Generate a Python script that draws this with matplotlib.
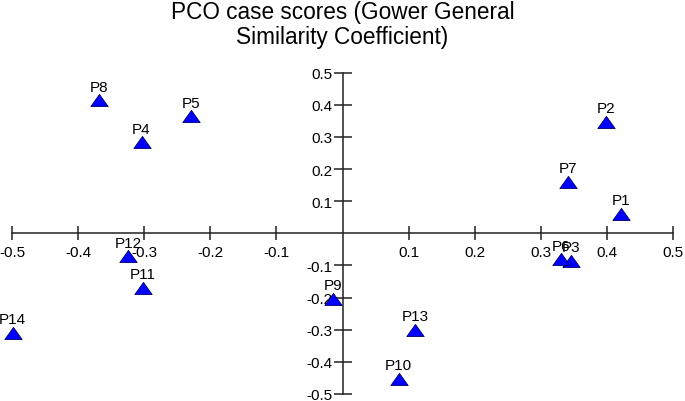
import matplotlib
matplotlib.use("Agg")
import matplotlib.pyplot as plt
from matplotlib.ticker import FixedLocator

plt.rcParams['font.family'] = ['Liberation Sans', 'DejaVu Sans']

labels = ['P1', 'P2', 'P3', 'P4', 'P5', 'P6', 'P7', 'P8', 'P9', 'P10', 'P11', 'P12', 'P13', 'P14']
x_scores = [0.422, 0.399, 0.346, -0.304, -0.229, 0.330, 0.341, -0.368, -0.015, 0.085, -0.302, -0.324, 0.110, -0.499]
y_scores = [0.061, 0.347, -0.086, 0.283, 0.364, -0.081, 0.160, 0.414, -0.203, -0.453, -0.170, -0.072, -0.300, -0.309]
x_ticks = [-0.5, -0.4, -0.3, -0.2, -0.1, 0.1, 0.2, 0.3, 0.4, 0.5]
y_ticks = [-0.5, -0.4, -0.3, -0.2, -0.1, 0.1, 0.2, 0.3, 0.4, 0.5]
title = "PCO case scores (Gower General\nSimilarity Coefficient)"

fig = plt.figure(figsize=(6.85, 4.02), dpi=100)
ax = fig.add_axes([12/685, 1 - 395/402, 661/685, (395 - 73.7)/402])
ax.set_xlim(-0.5, 0.5)
ax.set_ylim(-0.5, 0.5)

for s in ['top', 'right']:
    ax.spines[s].set_visible(False)
ax.spines['left'].set_position(('data', 0))
ax.spines['bottom'].set_position(('data', 0))
for s in ['left', 'bottom']:
    ax.spines[s].set_linewidth(1.1)
    ax.spines[s].set_color('#222222')

ax.xaxis.set_major_locator(FixedLocator(x_ticks))
ax.yaxis.set_major_locator(FixedLocator(y_ticks))
ax.set_xticklabels([f"{v:.1f}" for v in x_ticks])
ax.set_yticklabels([f"{v:.1f}" for v in y_ticks])
ax.tick_params(axis='x', direction='inout', length=9.4, width=1.1, color='#222222',
               labelsize=11, pad=4)
ax.tick_params(axis='y', direction='inout', length=13, width=1.1, color='#222222',
               labelsize=11, pad=0.5)
ax.patch.set_visible(False)

tri = [(-1, -0.7), (1, -0.7), (0, 0.7), (-1, -0.7)]
ax.plot(x_scores, y_scores, linestyle='none', marker=tri, markersize=12.5,
        markerfacecolor='#0000ff', markeredgecolor='#000066', markeredgewidth=0.6,
        clip_on=False, zorder=3)
for lx, ly, lb in zip(x_scores, y_scores, labels):
    ax.annotate(lb, (lx, ly), xytext=(0, 7), textcoords='offset points',
                ha='center', va='baseline', fontsize=11, zorder=4, annotation_clip=False)

fig.text(0.5, 1 - 1/402, title, ha='center', va='top', fontsize=16.3,
         linespacing=1.12)

fig.savefig('out.png', dpi=100)
